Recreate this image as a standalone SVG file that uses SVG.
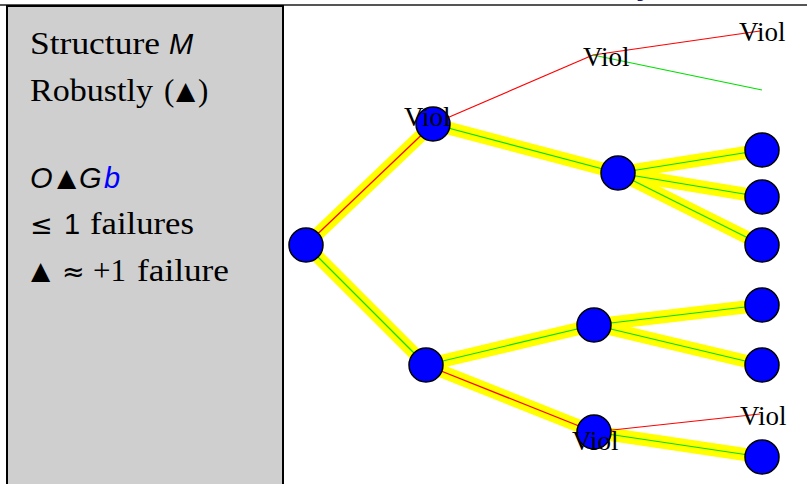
<svg xmlns="http://www.w3.org/2000/svg" width="807" height="484" viewBox="0 0 807 484">
  <defs>
    <style>
      .hl { stroke: #ffff00; stroke-width: 13; fill: none; }
      .ok { stroke: #00e000; stroke-width: 1.2; fill: none; }
      .bad { stroke: #ff0000; stroke-width: 1.2; fill: none; }
      .node { fill: #0000ff; stroke: #000; stroke-width: 1.5; }
      .viol { font-family: "Liberation Serif", serif; font-size: 27px; fill: #000; }
      .side { font-family: "Liberation Serif", serif; font-size: 31px; fill: #000; }
      .sans { font-family: "Liberation Sans", sans-serif; font-style: italic; font-size: 29px; }
      .tri { font-family: "DejaVu Sans", sans-serif; font-size: 25px; }
      .rel { font-family: "DejaVu Sans", sans-serif; font-size: 27px; }
    </style>
  </defs>

  <rect x="0" y="0" width="807" height="484" fill="#fff"/>

  <!-- heading above the frame, mostly out of view -->
  <text x="636" y="-5" font-family="Liberation Sans, sans-serif" font-weight="bold" font-size="30" fill="#1a1a66">y</text>

  <!-- frame rule -->
  <line x1="0" y1="5" x2="807" y2="5" stroke="#555" stroke-width="2"/>

  <!-- legend panel -->
  <g id="legend">
    <rect x="7" y="6" width="276" height="482" fill="#cfcfcf" stroke="#000" stroke-width="2"/>
    <text class="side" y="54"><tspan x="30" textLength="130" lengthAdjust="spacingAndGlyphs">Structure</tspan><tspan class="sans" x="169">M</tspan></text>
    <text class="side" y="101"><tspan x="30" textLength="123" lengthAdjust="spacingAndGlyphs">Robustly</tspan><tspan x="164">(</tspan><tspan class="tri" x="176" y="99">▲</tspan><tspan x="198" y="101">)</tspan></text>
    <text class="side" y="188"><tspan class="sans" x="30">O</tspan><tspan class="tri" x="57" y="186">▲</tspan><tspan class="sans" x="79" y="188">G</tspan><tspan class="sans" x="104" fill="#0000ff">b</tspan></text>
    <text class="side" y="234"><tspan class="rel" x="30">≤</tspan><tspan x="64" font-family="Liberation Sans, sans-serif" font-size="29">1</tspan><tspan x="90" textLength="104" lengthAdjust="spacingAndGlyphs">failures</tspan></text>
    <text class="side" y="281"><tspan class="tri" x="31" y="279">▲</tspan><tspan class="rel" x="62" y="281">≈</tspan><tspan x="93">+1</tspan><tspan x="137" textLength="92" lengthAdjust="spacingAndGlyphs">failure</tspan></text>
  </g>

  <!-- connectors -->
  <g id="connectors">
    <!-- highlighted tree edges -->
    <line class="hl" x1="306" y1="245" x2="433" y2="124"/>
    <line class="hl" x1="306" y1="245" x2="426" y2="365"/>
    <line class="hl" x1="433" y1="124" x2="618" y2="173"/>
    <line class="hl" x1="618" y1="173" x2="762" y2="150"/>
    <line class="hl" x1="618" y1="173" x2="762" y2="197"/>
    <line class="hl" x1="618" y1="173" x2="762" y2="245"/>
    <line class="hl" x1="426" y1="365" x2="594" y2="325"/>
    <line class="hl" x1="426" y1="365" x2="594" y2="432"/>
    <line class="hl" x1="594" y1="325" x2="762" y2="305"/>
    <line class="hl" x1="594" y1="325" x2="762" y2="365"/>
    <line class="hl" x1="594" y1="432" x2="762" y2="457"/>

    <!-- centre lines -->
    <line class="bad" x1="306" y1="245" x2="433" y2="124"/>
    <line class="ok" x1="306" y1="245" x2="426" y2="365"/>
    <line class="ok" x1="433" y1="124" x2="618" y2="173"/>
    <line class="ok" x1="618" y1="173" x2="762" y2="150"/>
    <line class="ok" x1="618" y1="173" x2="762" y2="197"/>
    <line class="ok" x1="618" y1="173" x2="762" y2="245"/>
    <line class="ok" x1="426" y1="365" x2="594" y2="325"/>
    <line class="bad" x1="426" y1="365" x2="594" y2="432"/>
    <line class="ok" x1="594" y1="325" x2="762" y2="305"/>
    <line class="ok" x1="594" y1="325" x2="762" y2="365"/>
    <line class="ok" x1="594" y1="432" x2="762" y2="457"/>

    <!-- violation branches -->
    <line class="bad" x1="433" y1="124" x2="593" y2="55"/>
    <line class="bad" x1="593" y1="55" x2="760" y2="31"/>
    <line class="ok" x1="593" y1="55" x2="762" y2="90"/>
    <line class="bad" x1="594" y1="432" x2="760" y2="414"/>
  </g>

  <!-- nodes -->
  <g id="n-root"><circle class="node" cx="306" cy="245" r="17"/></g>
  <g id="n-a"><circle class="node" cx="433" cy="124" r="17"/><text class="viol" x="404" y="126">Viol</text></g>
  <g id="n-b"><circle class="node" cx="618" cy="173" r="17"/></g>
  <g id="n-b1"><circle class="node" cx="762" cy="150" r="17"/></g>
  <g id="n-b2"><circle class="node" cx="762" cy="197" r="17"/></g>
  <g id="n-b3"><circle class="node" cx="762" cy="245" r="17"/></g>
  <g id="n-c"><circle class="node" cx="426" cy="365" r="17"/></g>
  <g id="n-d"><circle class="node" cx="594" cy="325" r="17"/></g>
  <g id="n-d1"><circle class="node" cx="762" cy="305" r="17"/></g>
  <g id="n-d2"><circle class="node" cx="762" cy="365" r="17"/></g>
  <g id="n-e"><circle class="node" cx="594" cy="432" r="17"/><text class="viol" x="572" y="450">Viol</text></g>
  <g id="n-e1"><circle class="node" cx="762" cy="457" r="17"/></g>
  <g id="n-v1"><text class="viol" x="583" y="66">Viol</text></g>
  <g id="n-v2"><text class="viol" x="739" y="41">Viol</text></g>
  <g id="n-v3"><text class="viol" x="740" y="425">Viol</text></g>
</svg>
